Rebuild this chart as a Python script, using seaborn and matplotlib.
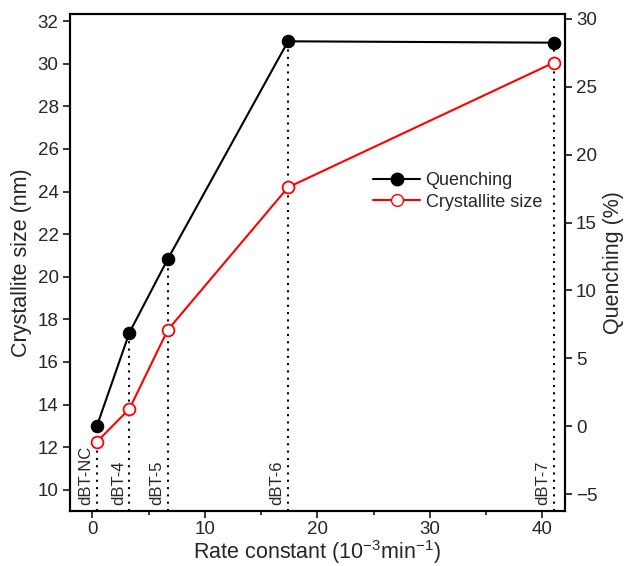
import matplotlib
matplotlib.use("Agg")
import matplotlib.pyplot as plt
import seaborn as sns
import pandas as pd
from matplotlib.ticker import MultipleLocator
from matplotlib.lines import Line2D

sns.set_style("ticks")
plt.rcParams['font.family'] = ['Liberation Sans', 'DejaVu Sans']
plt.rcParams['mathtext.fontset'] = 'custom'
plt.rcParams['mathtext.rm'] = 'Liberation Sans'
plt.rcParams['mathtext.default'] = 'regular'

samples = ["dBT-NC", "dBT-4", "dBT-5", "dBT-6", "dBT-7"]
rate_constant = [0.4, 3.3, 6.7, 17.4, 41.0]
crystallite_size = [12.25, 13.8, 17.5, 24.2, 30.05]
quenching = [0.0, 6.9, 12.3, 28.35, 28.25]

df = pd.DataFrame({"sample": samples, "k": rate_constant,
                   "size": crystallite_size, "quench": quenching})

fig = plt.figure(figsize=(6.29, 5.66), dpi=100)
ax = fig.add_axes([0.111, 0.097, 0.787, 0.878])
ax2 = ax.twinx()

ylim_l = (9.0, 32.33)
ylim_r = (-6.25, 30.35)

# dotted vertical guides from bottom to top point
for k, q in zip(rate_constant, quenching):
    ax2.plot([k, k], [ylim_r[0], q], linestyle=(0, (1, 2.5)), color="black", lw=1.5, zorder=1)

sns.lineplot(data=df, x="k", y="quench", ax=ax2, color="black", lw=1.5,
             marker="o", markersize=9, markerfacecolor="black",
             markeredgecolor="black", zorder=3, sort=False)
sns.lineplot(data=df, x="k", y="size", ax=ax, color="red", lw=1.5,
             marker="o", markersize=8.5, markerfacecolor="white",
             markeredgecolor="red", markeredgewidth=1.3, zorder=3, sort=False)

ax.set_zorder(ax2.get_zorder() + 1)
ax.patch.set_visible(False)

ax.set_xlim(-2, 42)
ax.set_ylim(*ylim_l)
ax2.set_ylim(*ylim_r)

ax.xaxis.set_major_locator(MultipleLocator(10))
ax.xaxis.set_minor_locator(MultipleLocator(5))
ax.yaxis.set_major_locator(MultipleLocator(2))
ax2.yaxis.set_major_locator(MultipleLocator(5))

ax.tick_params(axis="both", which="major", labelsize=13.5, direction="out", length=5, width=1.3, pad=3)
ax.tick_params(axis="x", which="major", pad=2)
ax.tick_params(axis="x", which="minor", direction="out", length=3, width=1.3)
ax2.tick_params(axis="y", labelsize=13.5, direction="out", length=5, width=1.3, pad=3)

for a in (ax, ax2):
    for s in a.spines.values():
        s.set_linewidth(1.5)
        s.set_color("black")

ax.set_xlabel("Rate constant (10$^{-3}$min$^{-1}$)", fontsize=15.5, labelpad=0)
ax.set_ylabel("Crystallite size (nm)", fontsize=15.5, labelpad=4)
ax2.set_ylabel("Quenching (%)", fontsize=15.5, labelpad=4)

# sample labels
for k, name in zip(rate_constant, samples):
    ax2.text(k - 0.3, ylim_r[0] + 0.45, name, rotation=90, ha="right", va="bottom",
             fontsize=12)

handles = [
    Line2D([], [], color="black", lw=1.5, marker="o", markersize=9,
           markerfacecolor="black", label="Quenching"),
    Line2D([], [], color="red", lw=1.5, marker="o", markersize=8.5,
           markerfacecolor="white", markeredgecolor="red", label="Crystallite size"),
]
ax.legend(handles=handles, loc="upper left", bbox_to_anchor=(0.58, 0.715),
          frameon=False, fontsize=13, handlelength=2.6, handletextpad=0.3,
          labelspacing=0.25)

fig.savefig("out.png", dpi=100)
